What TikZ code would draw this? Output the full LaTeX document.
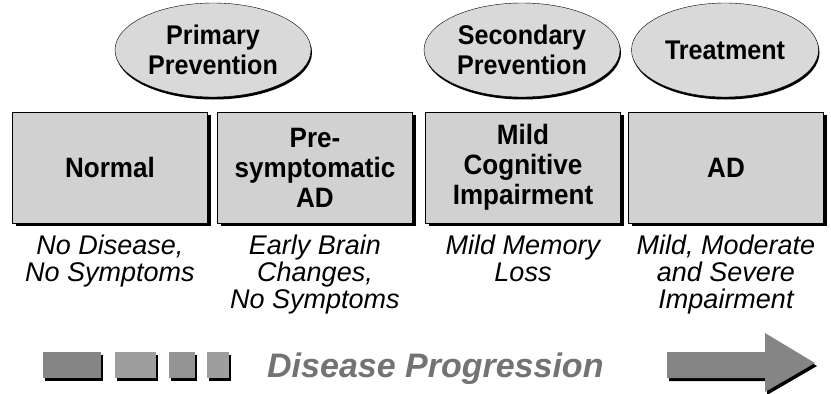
\documentclass[tikz,border=0pt]{standalone}
\usepackage{fontspec}
\setmainfont{Liberation Sans}
\newfontfamily\narrowfont[FakeStretch=0.93]{Liberation Sans}
\usepackage{tikz}
\usetikzlibrary{shapes.geometric, shadows, positioning}

\begin{document}
\begin{tikzpicture}[x=1pt, y=-1pt,
    stage/.style={draw=black, thin, fill=black!18, minimum width=195pt,
        minimum height=111pt, inner sep=0pt, align=center,
        font=\narrowfont\bfseries\fontsize{28}{30}\selectfont,
        drop shadow={shadow xshift=3pt, shadow yshift=-3pt, fill=black, opacity=1}},
    goal/.style={ellipse, draw=black, thin, fill=black!15, minimum width=196pt,
        minimum height=94pt, inner sep=0pt, align=center,
        font=\narrowfont\bfseries\fontsize{27}{30}\selectfont,
        drop shadow={shadow xshift=1pt, shadow yshift=-2.5pt, fill=black, opacity=1}},
    note/.style={inner sep=0pt, align=center,
        font=\itshape\fontsize{27}{27}\selectfont},
    bar/.style={fill=black!48,
        drop shadow={shadow xshift=2pt, shadow yshift=-3pt, fill=black, opacity=1}}]

    \useasboundingbox (0,0) rectangle (831,394);

    % Intervention ellipses along the top
    \node[goal] (primary) at (213,50) {Primary\\Prevention};
    \node[goal] (secondary) at (522,50) {Secondary\\Prevention};
    \node[goal, minimum width=187pt] (treat) at (725,50) {Treatment};

    % Stage boxes
    \node[stage] (normal) at (110,167.5) {Normal};
    \node[stage] (presym) at (315,167.5) {Pre-\\symptomatic\\AD};
    \node[stage] (mci) at (523,167.5) {Mild\\Cognitive\\Impairment};
    \node[stage] (ad) at (726,167.5) {AD};

    % Descriptions under each stage
    \node[note, below=12pt of normal] (notenormal) {No Disease,\\No Symptoms};
    \node[note, below=12pt of presym] (notepresym) {Early Brain\\Changes,\\No Symptoms};
    \node[note, below=12pt of mci] (notemci) {Mild Memory\\Loss};
    \node[note, below=12pt of ad] (notead) {Mild, Moderate\\and Severe\\Impairment};

    % Progression bar at the bottom
    \fill[bar] (43,352) rectangle (101,378);
    \fill[bar, fill=black!38] (115,352) rectangle (156,378);
    \fill[bar, fill=black!42] (169,352) rectangle (195,378);
    \fill[bar, fill=black!38] (207,352) rectangle (229,378);
    \node[anchor=base west, inner sep=0pt, text=black!55,
        font=\bfseries\itshape\fontsize{34}{34}\selectfont] (progress) at (267,377) {Disease Progression};
    \fill[bar] (667,352) -- (765,352) -- (765,333) -- (815,363)
               -- (765,392) -- (765,378) -- (667,378) -- cycle;

\end{tikzpicture}
\end{document}
